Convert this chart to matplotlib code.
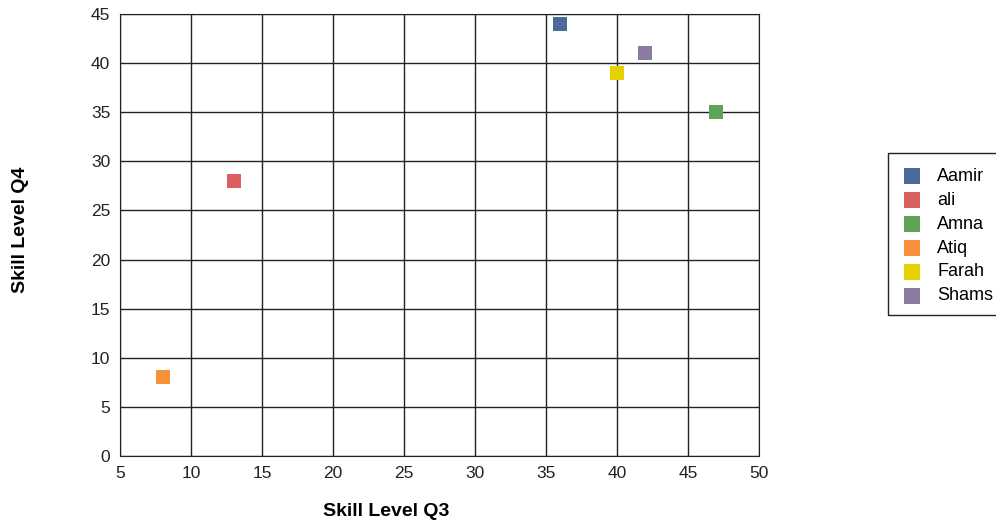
import matplotlib.pyplot as plt
from matplotlib.patches import Rectangle

plt.rcParams['font.family'] = ['Liberation Sans', 'DejaVu Sans']

names = ['Aamir', 'ali', 'Amna', 'Atiq', 'Farah', 'Shams']
q3 = [36, 13, 47, 8, 40, 42]
q4 = [44, 28, 35, 8, 39, 41]
colors = ['#4a6a9c', '#d9605e', '#5da35a', '#f7923a', '#e8cf00', '#8c7ba0']

W, H = 996, 524
fig = plt.figure(figsize=(W/100, H/100), dpi=100)
ax = fig.add_axes([120/W, 1-456/H, 639/W, 442/H])

for n, x, y, c in zip(names, q3, q4, colors):
    ax.scatter(x, y, marker='s', s=115, color=c, label=n, zorder=3, linewidths=0)

ax.set_xlim(5, 50)
ax.set_ylim(0, 45)
ax.set_xticks(range(5, 51, 5))
ax.set_yticks(range(0, 46, 5))
ax.grid(True, color='#222222', linewidth=1)
ax.tick_params(length=0, labelsize=12.5, pad=7, colors='#222222')
for s in ax.spines.values():
    s.set_color('#222222')

ax.set_xlabel('Skill Level Q3', fontsize=14, fontweight='bold', ha='left')
ax.xaxis.set_label_coords((323-120)/639, (456-503)/442)
ax.set_ylabel('Skill Level Q4', fontsize=14, fontweight='bold')
ax.yaxis.set_label_coords((29-120)/639, (456-230)/442)

# legend box runs off the right edge, so the frame is drawn separately
fig.patches.append(Rectangle((888/W, 1-315/H), 130/W, 162/H, transform=fig.transFigure,
                             fill=False, edgecolor='#222222', linewidth=1))
leg = fig.legend(loc='upper left', bbox_to_anchor=(902.5/W, 1-168/H), fontsize=13,
                 frameon=False, handletextpad=0.92, handlelength=1.0,
                 labelspacing=0.38, borderpad=0, borderaxespad=0, markerscale=1.05)

fig.savefig('out.png', dpi=100)
